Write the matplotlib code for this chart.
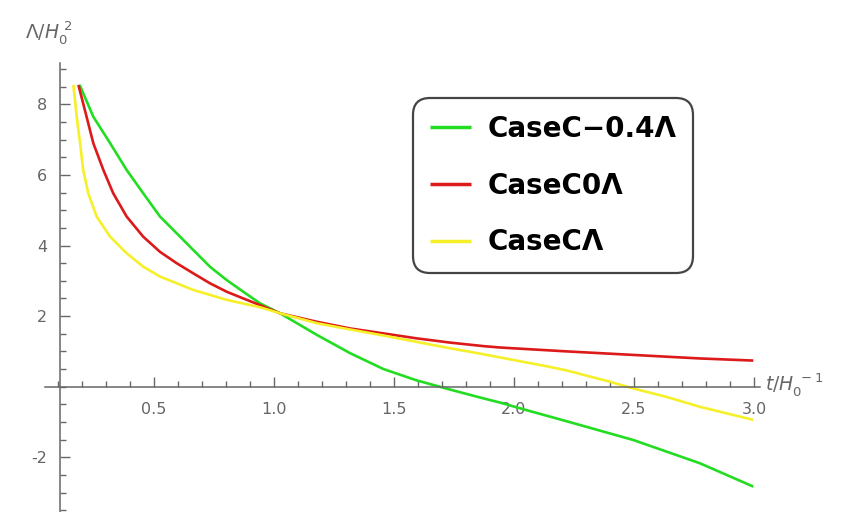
import numpy as np
import matplotlib.pyplot as plt

plt.rcParams["axes.unicode_minus"] = False

# sampled curves, t in units of 1/H0, Lambda in units of H0^2
t_green = [0.19, 0.247, 0.317, 0.386, 0.455, 0.525, 0.594, 0.664, 0.733, 0.803, 0.872,
           0.942, 1.025, 1.178, 1.317, 1.456, 1.594, 1.733, 1.872, 1.942, 2.05, 2.22,
           2.497, 2.775, 2.997]
y_green = [8.55, 7.65, 6.9, 6.14, 5.48, 4.82, 4.35, 3.87, 3.4, 3.02, 2.69,
           2.36, 2.08, 1.47, 0.95, 0.5, 0.18, -0.08, -0.33, -0.45, -0.66, -0.98,
           -1.51, -2.17, -2.83]

t_red = [0.185, 0.219, 0.247, 0.289, 0.33, 0.386, 0.455, 0.525, 0.594, 0.664, 0.733,
         0.803, 0.872, 0.942, 1.025, 1.178, 1.317, 1.456, 1.594, 1.733, 1.872, 1.942,
         2.22, 2.497, 2.775, 2.997]
y_red = [8.55, 7.65, 6.9, 6.14, 5.48, 4.82, 4.25, 3.82, 3.5, 3.21, 2.93,
         2.69, 2.5, 2.31, 2.08, 1.84, 1.65, 1.51, 1.37, 1.25, 1.15, 1.11,
         1.0, 0.9, 0.8, 0.74]

t_yellow = [0.164, 0.178, 0.192, 0.205, 0.226, 0.261, 0.317, 0.386, 0.455, 0.525, 0.664,
            0.803, 0.942, 1.025, 1.178, 1.317, 1.456, 1.594, 1.733, 1.872, 2.011, 2.15,
            2.22, 2.4, 2.497, 2.636, 2.775, 2.997]
y_yellow = [8.55, 7.65, 6.9, 6.14, 5.48, 4.82, 4.25, 3.78, 3.4, 3.12, 2.74,
            2.46, 2.25, 2.08, 1.8, 1.62, 1.45, 1.27, 1.09, 0.92, 0.74, 0.56,
            0.46, 0.14, -0.05, -0.29, -0.57, -0.94]

labels = ["CaseC\u22120.4\u039b", "CaseC0\u039b", "CaseC\u039b"]
colors = ["#22dd22", "#dd1a1a", "#f5f02a"]

fig = plt.figure(figsize=(8.56, 5.12), dpi=100)
ax = fig.add_axes([0, 0, 1, 1])
ax.set_xlim(-34 / 240, (856 - 34) / 240)
ax.set_ylim((386.7 - 512) / 35.3, 386.7 / 35.3)

for tt, yy, c, lab in zip([t_green, t_red, t_yellow], [y_green, y_red, y_yellow], colors, labels):
    ax.plot(tt, yy, color=c, lw=1.9, label=lab, solid_capstyle="butt", solid_joinstyle="round")

gray = "#666666"
for s in ["top", "right"]:
    ax.spines[s].set_visible(False)
ax.spines["left"].set_position(("data", 0.108))
ax.spines["bottom"].set_position(("data", 0))
ax.spines["left"].set_bounds(-3.55, 9.17)
ax.spines["bottom"].set_bounds(0.046, 3.025)
for s in ["left", "bottom"]:
    ax.spines[s].set_color(gray)
    ax.spines[s].set_linewidth(1.1)

ax.set_xticks([0.5, 1.0, 1.5, 2.0, 2.5, 3.0])
ax.set_xticklabels(["0.5", "1.0", "1.5", "2.0", "2.5", "3.0"])
ax.set_xticks(np.arange(0.1, 3.05, 0.1), minor=True)
ax.set_yticks([-2, 2, 4, 6, 8])
ax.set_yticks(np.arange(-3.5, 9.1, 0.5), minor=True)
ax.tick_params(which="both", direction="in", color=gray, width=1.0)
ax.tick_params(which="major", length=7, labelsize=11.5, labelcolor=gray)
ax.tick_params(which="minor", length=4)
ax.tick_params(axis="x", which="major", pad=11)
ax.tick_params(axis="y", which="major", pad=9)

ax.text(25 / 856, 1 - 32 / 512, r"$\Lambda/H_0^{\ 2}$", transform=ax.transAxes,
        fontsize=13.5, color=gray, va="center", ha="left")
ax.text(765 / 856, 1 - 385 / 512, r"$t/H_0^{\ -1}$", transform=ax.transAxes,
        fontsize=13.5, color=gray, va="center", ha="left")

leg = ax.legend(loc="upper left", bbox_to_anchor=(413 / 856, 1 - 98 / 512),
                prop={"family": "DejaVu Sans", "weight": "bold", "size": 20},
                handlelength=1.5, handletextpad=0.58, labelspacing=1.04,
                borderpad=0.6, borderaxespad=0, fancybox=True, framealpha=1)
leg.get_frame().set_edgecolor("#444444")
leg.get_frame().set_linewidth(1.6)
leg.get_frame().set_boxstyle("round", pad=0, rounding_size=0.6)
for h in leg.get_lines():
    h.set_linewidth(2.5)

fig.savefig("out.png", dpi=100)
